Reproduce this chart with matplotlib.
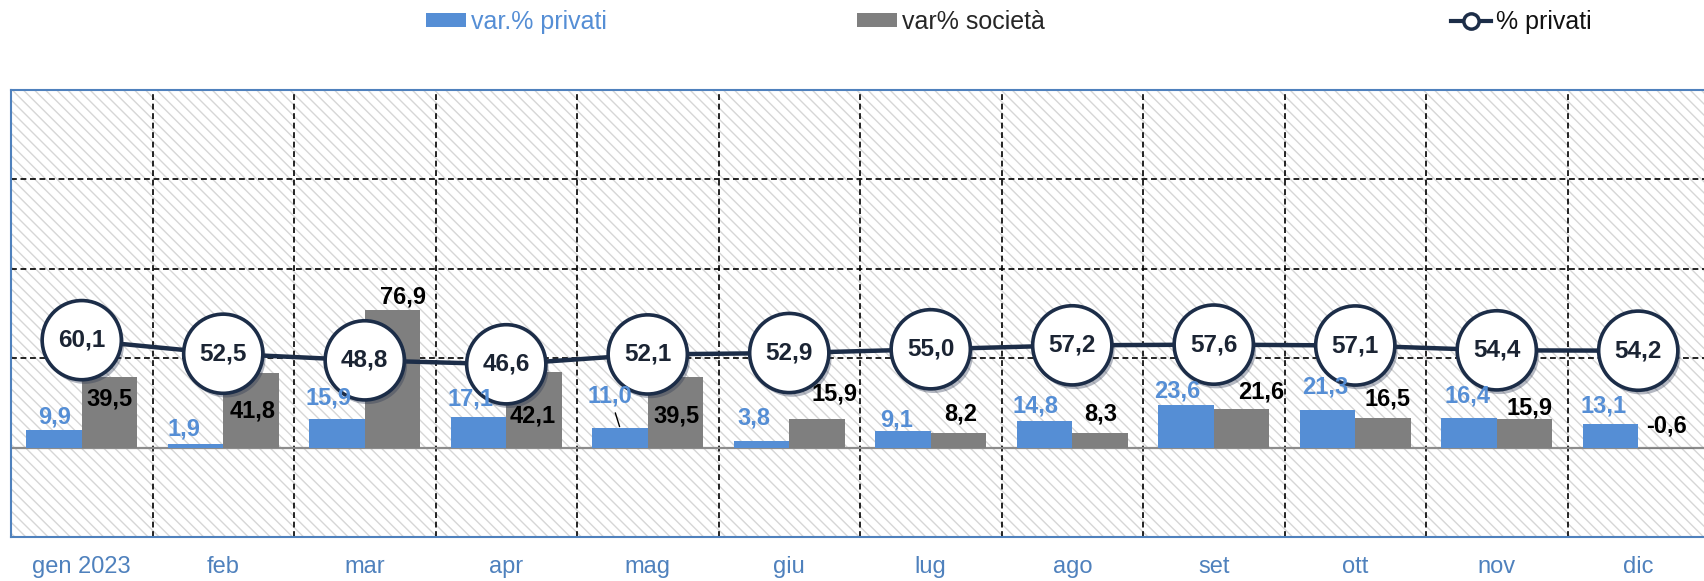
import numpy as np
import matplotlib
matplotlib.use('Agg')
import matplotlib.pyplot as plt
import matplotlib.patheffects as pe
from matplotlib.patches import Rectangle, Patch
from matplotlib.lines import Line2D

plt.rcParams['font.family'] = ['Liberation Sans', 'DejaVu Sans']
plt.rcParams['hatch.linewidth'] = 1.0

# data
mesi = ['gen 2023', 'feb', 'mar', 'apr', 'mag', 'giu',
        'lug', 'ago', 'set', 'ott', 'nov', 'dic']
var_privati = [9.9, 1.9, 15.9, 17.1, 11.0, 3.8, 9.1, 14.8, 23.6, 21.3, 16.4, 13.1]
var_societa = [39.5, 41.8, 76.9, 42.1, 39.5, 15.9, 8.2, 8.3, 21.6, 16.5, 15.9, -0.6]
quota_privati = [60.1, 52.5, 48.8, 46.6, 52.1, 52.9, 55.0, 57.2, 57.6, 57.1, 54.4, 54.2]

# label offsets in pixels (dx, dy) from bar top, picked to match the original layout
off_priv = [(1, 13), (-12, 15), (-9, 21), (-8, 18), (-10, 32), (-8, 23),
            (-6, 11), (-9, 15), (-9, 14), (-2, 23), (-2, 22), (-7, 18)]
off_soc = [(0, -22), (2, -38), (11, 13), (-1, -44), (1, -39), (18, 25),
           (2, 19), (1, 19), (20, 17), (5, 19), (5, 11), (1, 22)]

BLUE = '#558ed5'
GRAY = '#7f7f7f'
NAVY = '#1c2d48'
TICK_BLUE = '#4f81bd'

def fmt(v):
    return f"{v:.1f}".replace('.', ',')

fig = plt.figure(figsize=(17.04, 5.81), dpi=100)
ax = fig.add_axes([11 / 1704, 1 - 537 / 581, 1698 / 1704, 447 / 581])

x = np.arange(len(mesi))
w = 0.392
ax.set_xlim(-0.5, 11.5)
ax.set_ylim(-50, 200)

# hatched background
bg = Rectangle((0, 0), 1, 1, transform=ax.transAxes, facecolor='white',
               edgecolor='#d6d6d6', hatch='\\\\\\', linewidth=0, zorder=0)
ax.add_patch(bg)
ax.patch.set_visible(False)

# dashed grid
for yv in [50, 100, 150]:
    ax.axhline(yv, color='black', lw=1.2, ls=(0, (3.5, 2.2)), zorder=1)
for xv in np.arange(0.5, 11, 1):
    ax.axvline(xv, color='black', lw=1.2, ls=(0, (3.5, 2.2)), zorder=1)
ax.axhline(0, color='#8c8c8c', lw=1.6, zorder=2)

ax.bar(x - w / 2, var_privati, w, color=BLUE, zorder=3)
ax.bar(x + w / 2, var_societa, w, color=GRAY, zorder=3)

ax.plot(x, quota_privati, color=NAVY, lw=3.2, zorder=4)
ax.plot(x, quota_privati, ls='none', marker='o', ms=57, mfc='white', mec=NAVY,
        mew=2.6, zorder=5,
        path_effects=[pe.SimplePatchShadow(offset=(2, -3), shadow_rgbFace='#2a3550', alpha=0.35),
                      pe.Normal()])

for xi, v in zip(x, quota_privati):
    ax.text(xi, v, fmt(v), ha='center', va='center', fontsize=17.5,
            fontweight='bold', color='#1b2433', zorder=7)

for i, (xi, v) in enumerate(zip(x, var_privati)):
    kw = {}
    if i == 4:
        kw['arrowprops'] = dict(arrowstyle='-', color='black', lw=1.0,
                                shrinkA=2, shrinkB=1)
    ax.annotate(fmt(v), xy=(xi - w / 2, max(v, 0)), xytext=off_priv[i],
                textcoords='offset pixels', ha='center', va='center',
                fontsize=17, fontweight='bold', color=BLUE, zorder=8, **kw)

for i, (xi, v) in enumerate(zip(x, var_societa)):
    ax.annotate(fmt(v), xy=(xi + w / 2, max(v, 0)), xytext=off_soc[i],
                textcoords='offset pixels', ha='center', va='center',
                fontsize=17, fontweight='bold', color='black', zorder=8)

ax.set_xticks(x)
ax.set_xticklabels(mesi, fontsize=17, color=TICK_BLUE)
ax.tick_params(axis='x', length=0, pad=14)
ax.set_yticks([])
for s in ax.spines.values():
    s.set_color(TICK_BLUE)
    s.set_linewidth(1.5)

# legend, three separate entries
leg_items = [
    (Patch(facecolor=BLUE), 'var.% privati', BLUE, 426 / 1704),
    (Patch(facecolor=GRAY), 'var% società', '#262626', 857 / 1704),
    (Line2D([0], [0], color=NAVY, lw=3, marker='o', ms=11, mfc='white',
            mec=NAVY, mew=2.5), '% privati', '#111111', 1451 / 1704),
]
for h, lab, col, xpos in leg_items:
    lg = fig.legend([h], [lab], loc='center left', bbox_to_anchor=(xpos, 1 - 22 / 581),
                    frameon=False, fontsize=18, borderpad=0, borderaxespad=0,
                    handlelength=1.6, handleheight=0.5, handletextpad=0.2)
    for t in lg.get_texts():
        t.set_color(col)

fig.savefig('out.png', dpi=100)
